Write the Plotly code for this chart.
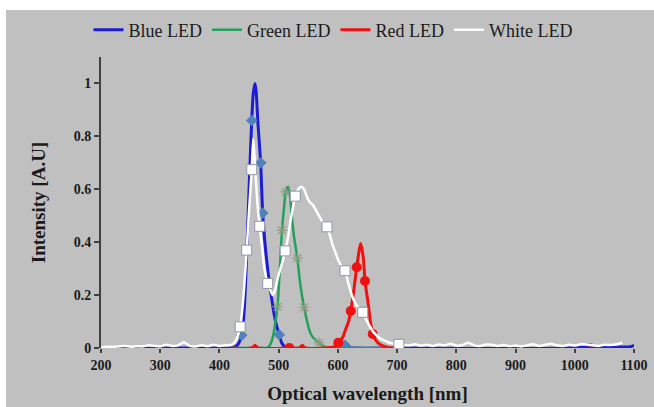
import plotly.graph_objects as go

# ---------------- data ----------------
blue_wl = [200, 300, 400, 420, 430, 435, 438, 442, 446, 450, 454.5, 457, 460, 462, 465, 469.6, 473, 478, 483, 488,
           493, 497, 501, 505, 510, 515, 600, 608, 612, 616, 700, 990, 1000, 1010, 1030, 1050, 1060, 1080, 1095, 1100]
blue_val = [0, 0, 0, 0, 0.01, 0.03, 0.05, 0.15, 0.35, 0.6, 0.86, 0.96, 1.0, 0.97, 0.85, 0.70, 0.51, 0.37, 0.27, 0.19,
            0.12, 0.08, 0.05, 0.02, 0.005, 0, 0, 0.003, 0.01, 0.002, 0, 0, 0.003, 0.004, 0.003, 0.004, 0.005, 0.004, 0.005, 0.01]
blue_mk_wl = [437.5, 454.5, 469.6, 473, 501, 612]
blue_mk_val = [0.048, 0.86, 0.70, 0.51, 0.05, 0.01]

green_wl = [420, 470, 480, 485, 490, 494, 498, 502, 505.6, 509, 512, 516, 519, 522, 526, 531.5, 536, 540, 543, 548,
            553, 558, 563, 568, 573, 580, 590, 650, 700]
green_val = [0, 0, 0, 0.01, 0.04, 0.09, 0.156, 0.3, 0.445, 0.53, 0.59, 0.61, 0.58, 0.5, 0.42, 0.34, 0.25, 0.19, 0.154, 0.1,
             0.06, 0.04, 0.03, 0.02, 0.01, 0.003, 0, 0, 0]
green_mk_wl = [498, 505.6, 512, 531.5, 543, 568]
green_mk_val = [0.156, 0.445, 0.59, 0.34, 0.154, 0.02]

red_wl = [420, 455, 460, 465, 518, 535, 540, 545, 595, 600.7, 608, 613, 618, 621.7, 627, 631.8, 636, 638.5, 643,
          645.8, 651, 655, 658.8, 664, 670, 680, 690, 700, 1010, 1020, 1030]
red_val = [0, 0, 0.01, 0, 0, 0, 0.01, 0, 0.005, 0.02, 0.04, 0.07, 0.1, 0.14, 0.22, 0.305, 0.37, 0.395, 0.34,
           0.253, 0.17, 0.1, 0.053, 0.03, 0.015, 0.005, 0, 0, None, 0.012, 0.012]
red_mk_wl = [518, 600.7, 621.7, 631.8, 645.8, 658.8]
red_mk_val = [0, 0.02, 0.14, 0.305, 0.253, 0.053]

white_wl = [200, 210, 220, 230, 240, 250, 260, 270, 280, 290, 300, 310, 320, 330, 340, 350, 360, 370, 380, 390, 400,
            410, 420, 425, 430, 435, 440, 446, 450, 454.5, 457, 460, 464, 468, 472, 476, 481.5, 486, 490, 494, 498,
            503, 507, 511, 516, 520, 524, 528, 533, 538, 543, 548, 553, 558, 563, 568, 573, 578, 581.6, 586, 591,
            596, 601, 606, 612, 617, 622, 627, 632, 637, 642, 647, 652, 657, 662, 667, 672, 677, 682, 687, 692, 697,
            703, 710, 720, 730, 740, 750, 760, 770, 780, 790, 800, 810, 820, 830, 840, 850, 860, 870, 880, 890, 900,
            910, 920, 930, 940, 950, 960, 970, 980, 990, 1000, 1010, 1020, 1030, 1040, 1050, 1060, 1070, 1080, 1090, 1100]
white_val = [0.003, 0.005, 0.004, 0.006, 0.008, 0.005, 0.007, 0.006, 0.01, 0.008, 0.006, 0.012, 0.008, 0.01, 0.022,
             0.008, 0.006, 0.01, 0.007, 0.012, 0.008, 0.01, 0.012, 0.02, 0.04, 0.08, 0.18, 0.37, 0.52, 0.674, 0.79,
             0.7, 0.55, 0.46, 0.38, 0.3, 0.244, 0.22, 0.2, 0.22, 0.26, 0.3, 0.33, 0.367, 0.42, 0.48, 0.53, 0.574,
             0.6, 0.61, 0.6, 0.57, 0.55, 0.54, 0.52, 0.5, 0.48, 0.465, 0.458, 0.43, 0.39, 0.36, 0.33, 0.31, 0.292,
             0.25, 0.21, 0.18, 0.16, 0.15, 0.135, 0.11, 0.09, 0.07, 0.055, 0.045, 0.035, 0.03, 0.025, 0.02, 0.018,
             0.015, 0.014, 0.012, 0.01, 0.014, 0.009, 0.012, 0.008, 0.013, 0.01, 0.016, 0.009, 0.011, 0.02, 0.01,
             0.008, 0.013, 0.012, 0.008, 0.011, 0.007, 0.009, 0.006, 0.01, 0.014, 0.008, 0.012, 0.016, 0.01, 0.008,
             0.012, 0.009, 0.014, 0.013, 0.01, 0.008, 0.012, 0.011, 0.013, 0.02]
white_mk_wl = [435, 446, 454.5, 468, 481.5, 511, 528, 581.6, 612, 642, 703]
white_mk_val = [0.08, 0.37, 0.674, 0.46, 0.244, 0.367, 0.574, 0.458, 0.292, 0.135, 0.014]

x_ticks = [200, 300, 400, 500, 600, 700, 800, 900, 1000, 1100]
y_ticks = [0, 0.2, 0.4, 0.6, 0.8, 1]

# ---------------- style ----------------
BG = "#c0c0c0"
FONT = "Liberation Serif"
BLUE, GREEN, RED, WHITE = "#1c1cd6", "#22a05c", "#f01010", "#ffffff"

fig = go.Figure()

series = [
    ("Blue LED", blue_wl, blue_val, BLUE, 3,
     blue_mk_wl, blue_mk_val, dict(symbol="diamond", size=9, color="#4f81bd", line=dict(width=0))),
    ("Green LED", green_wl, green_val, GREEN, 2.5,
     green_mk_wl, green_mk_val, dict(symbol="asterisk-open", size=9, color="#8a9a80", line=dict(width=1.2, color="#8a9a80"))),
    ("Red LED", red_wl, red_val, RED, 3,
     red_mk_wl, red_mk_val, dict(symbol="circle", size=10, color=RED, line=dict(width=0))),
    ("White LED", white_wl, white_val, WHITE, 2.5,
     white_mk_wl, white_mk_val, dict(symbol="square", size=10, color=WHITE, line=dict(width=1, color="#8d95a8"))),
]

for name, wl, val, col, w, mwl, mval, mk in series:
    fig.add_trace(go.Scatter(x=wl, y=val, mode="lines", name=name,
                             line=dict(color=col, width=w, shape="spline", smoothing=0.6),
                             connectgaps=False))
    fig.add_trace(go.Scatter(x=mwl, y=mval, mode="markers", marker=mk,
                             showlegend=False, hoverinfo="skip"))

# The gray chart panel starts 6px from the left and 10px from the top of the page.
# Figure: 648x397, plot area (figure coords) x 95..628, y 47..338
FW, FH = 648, 397

fig.update_layout(
    width=FW, height=FH,
    margin=dict(l=95, r=20, t=47, b=59),
    paper_bgcolor=BG, plot_bgcolor=BG,
    font=dict(family=FONT, color="#1a1a1a"),
    showlegend=True,
    legend=dict(orientation="h", xref="container", yref="container",
                x=327 / FW, xanchor="center", y=1 - 20 / FH, yanchor="middle",
                font=dict(family=FONT, size=18, color="#1a1a1a"), bgcolor="rgba(0,0,0,0)",
                itemwidth=30, tracegroupgap=0),
    xaxis=dict(range=[200, 1100], tickvals=x_ticks, ticktext=[str(v) for v in x_ticks],
               showgrid=False, zeroline=False, showline=False, automargin=False,
               ticks="outside", ticklen=4, tickcolor="#404040", tickwidth=1.5,
               tickfont=dict(family=FONT, size=14, color="#1a1a1a", weight="bold"),
               title=dict(text="<b>Optical wavelength [nm]</b>", font=dict(family=FONT, size=19, color="#1a1a1a"),
                          standoff=14)),
    yaxis=dict(range=[0, 1.1], tickvals=y_ticks, ticktext=["0", "0.2", "0.4", "0.6", "0.8", "1"],
               showgrid=False, zeroline=False, showline=True, linecolor="#404040", linewidth=2, automargin=False,
               ticks="outside", ticklen=5, tickcolor="#404040", tickwidth=1.5,
               tickfont=dict(family=FONT, size=14, color="#1a1a1a", weight="bold"),
               title=dict(text="<b>Intensity [A.U]</b>", font=dict(family=FONT, size=19, color="#1a1a1a"),
                          standoff=23)),
)

fig.write_html(
    "out.html",
    config={"displayModeBar": False},
    post_script="document.body.style.margin='0';document.body.style.padding='10px 0 0 6px';"
                "document.body.style.background='white';",
)
